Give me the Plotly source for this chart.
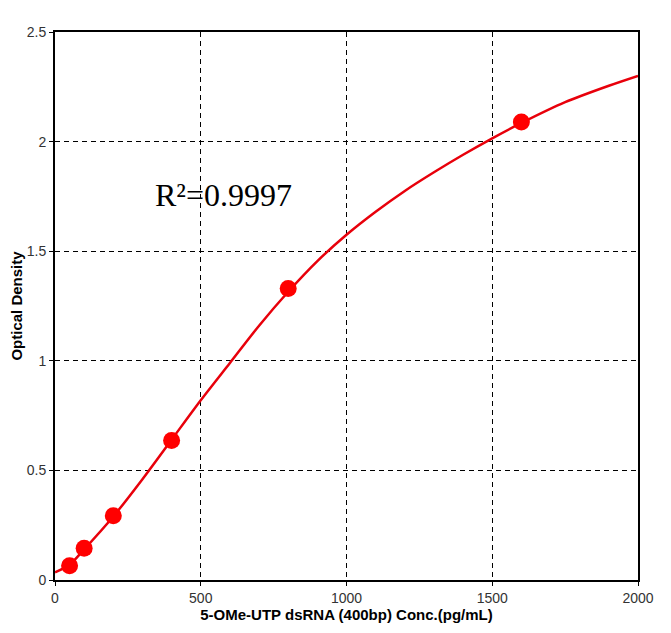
import plotly.graph_objects as go

# standard points (concentration vs OD)
conc = [50, 100, 200, 400, 800, 1600]
od = [0.065, 0.145, 0.293, 0.636, 1.330, 2.089]

# fitted curve
curve_x = [0, 50, 100, 200, 300, 400, 500, 600, 700, 800, 900, 1000,
           1100, 1200, 1300, 1400, 1500, 1600, 1750, 1900, 2000]
curve_y = [0.035, 0.07, 0.14, 0.29, 0.46, 0.64, 0.82, 0.99, 1.16, 1.315, 1.455, 1.575,
           1.68, 1.775, 1.86, 1.94, 2.015, 2.085, 2.18, 2.255, 2.30]

x_ticks = [0, 500, 1000, 1500, 2000]
y_ticks = [0, 0.5, 1, 1.5, 2, 2.5]
y_tick_text = ["0", "0.5", "1", "1.5", "2", "2.5"]

fig = go.Figure()

fig.add_trace(go.Scatter(
    x=curve_x, y=curve_y,
    mode="lines",
    line=dict(color="#e8000b", width=2.5, shape="spline", smoothing=0.8),
    hoverinfo="skip"
))

fig.add_trace(go.Scatter(
    x=conc, y=od,
    mode="markers",
    marker=dict(color="#ff0000", size=17, line=dict(width=0))
))

fig.add_annotation(
    x=577, y=1.756, xref="x", yref="y",
    text="R²=0.9997",
    showarrow=False,
    font=dict(family="Liberation Serif", size=32, color="black")
)

axis_common = dict(
    showgrid=True, gridcolor="black", gridwidth=1, griddash="5px,4px",
    showline=True, linecolor="black", linewidth=2, mirror=True,
    ticks="outside", ticklen=4, tickcolor="black",
    zeroline=False, automargin=False,
    tickfont=dict(family="Liberation Sans", size=14, color="#333333"),
)

fig.update_xaxes(
    range=[0, 2000], tickvals=x_ticks,
    title=dict(text="<b>5-OMe-UTP dsRNA (400bp) Conc.(pg/mL)</b>",
               font=dict(family="Liberation Sans", size=15, color="black"),
               standoff=0),
    **axis_common
)
fig.update_yaxes(
    range=[0, 2.5], tickvals=y_ticks, ticktext=y_tick_text,
    title=dict(text="<b>Optical Density</b>",
               font=dict(family="Liberation Sans", size=15, color="black"),
               standoff=0),
    **axis_common
)

# page body adds ~8px offset, margins compensate
fig.update_layout(
    width=671, height=633,
    margin=dict(l=47, r=41, t=24, b=61),
    plot_bgcolor="white", paper_bgcolor="white",
    showlegend=False
)

fig.write_html("out.html")
